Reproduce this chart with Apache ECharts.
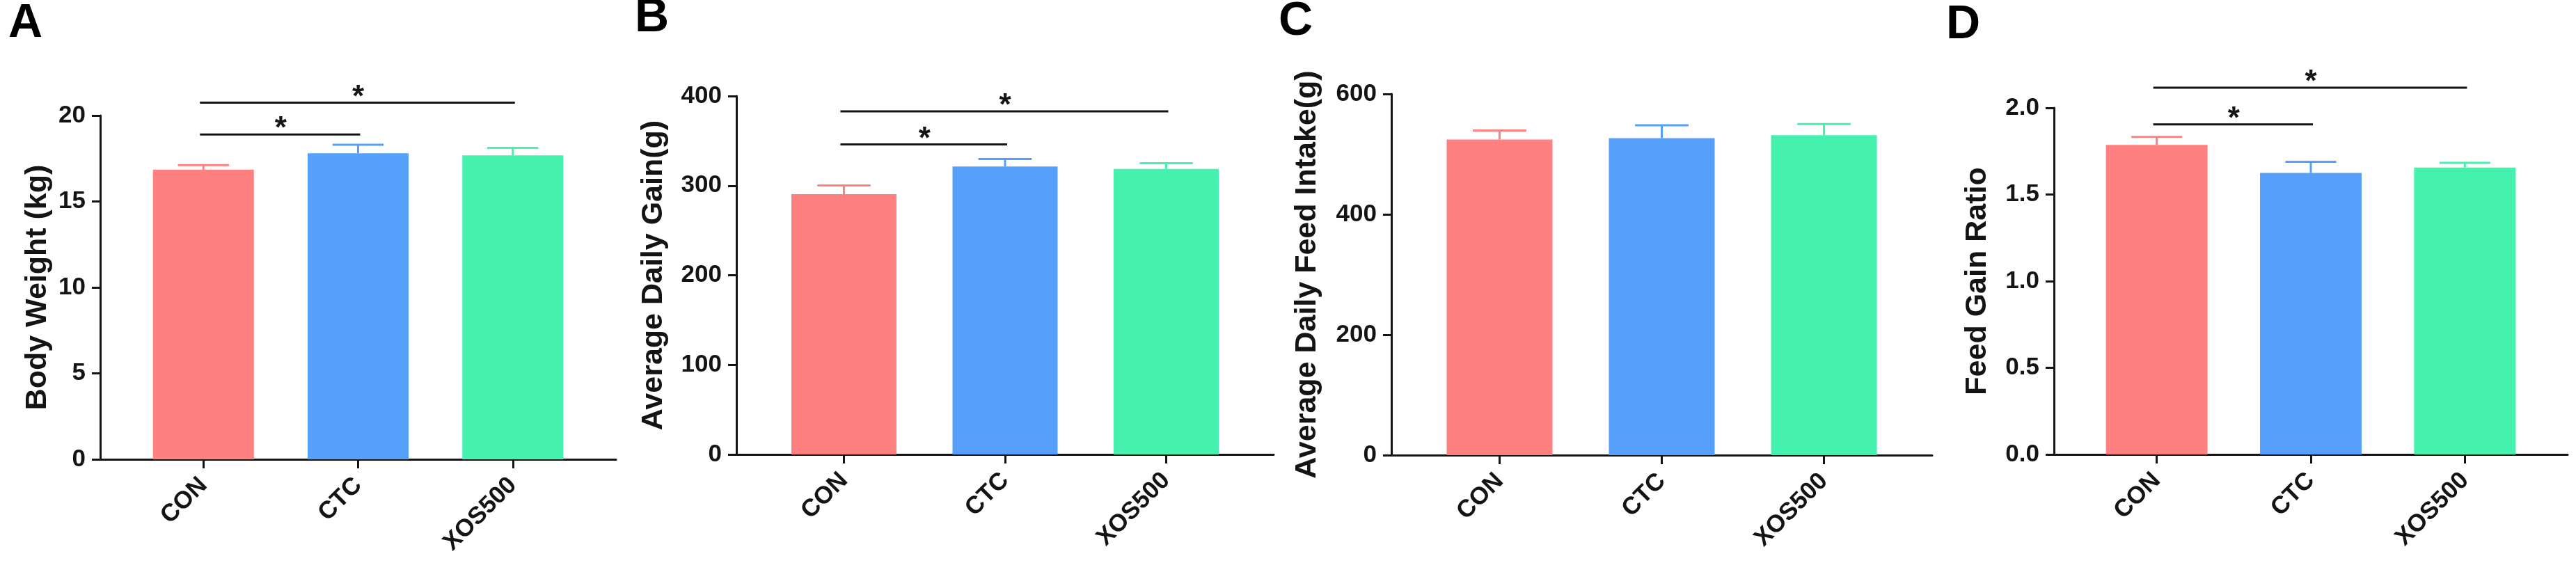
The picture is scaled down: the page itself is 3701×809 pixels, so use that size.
<!DOCTYPE html>
<html>
<head>
<meta charset="utf-8">
<script src="https://cdn.jsdelivr.net/npm/echarts@6/dist/echarts.min.js"></script>
<style>
  html, body { margin: 0; padding: 0; background: #fff; }
  #main { width: 3701px; height: 809px; }
</style>
</head>
<body>
<div id="main"></div>
<script>
// groups and colours
var groups = ['CON', 'CTC', 'XOS500']
var barColors = ['#FF8080', '#56A0FB', '#44F2AE']

// A - body weight (kg)
var bodyWeight = [16.85, 17.80, 17.68]
var bodyWeightErr = [0.27, 0.50, 0.44]
var bodyWeightSig = [[0, 1, 18.9], [0, 2, 20.75]]

// B - average daily gain (g)
var dailyGain = [290.5, 321.4, 318.6]
var dailyGainErr = [9.6, 8.4, 6.4]
var dailyGainSig = [[0, 1, 346], [0, 2, 383]]

// C - average daily feed intake (g)
var feedIntake = [524.3, 526.6, 531.4]
var feedIntakeErr = [14.9, 21.5, 18.5]
var feedIntakeSig = []

// D - feed gain ratio
var feedGainRatio = [1.786, 1.624, 1.656]
var feedGainRatioErr = [0.046, 0.065, 0.027]
var feedGainRatioSig = [[0, 1, 1.905], [0, 2, 2.116]]

var FONT = '"Liberation Sans", Arial, Helvetica, sans-serif'
var INK = '#141414'

var panels = [
  {letter: 'A', letterLeft: 12, letterTop: 0, name: 'Body Weight (kg)', nameGap: 68,
    grid: {left: 144, top: 166, width: 741, height: 494}, max: 20, interval: 5, digits: 0,
    barWidth: 145, values: bodyWeight, errors: bodyWeightErr, sig: bodyWeightSig},
  {letter: 'B', letterLeft: 912, letterTop: -8, name: 'Average Daily Gain(g)', nameGap: 97,
    grid: {left: 1058, top: 138, width: 772, height: 515}, max: 400, interval: 100, digits: 0,
    barWidth: 151, values: dailyGain, errors: dailyGainErr, sig: dailyGainSig},
  {letter: 'C', letterLeft: 1837, letterTop: -3, name: 'Average Daily Feed Intake(g)', nameGap: 99,
    grid: {left: 1999, top: 135, width: 777, height: 519}, max: 600, interval: 200, digits: 0,
    barWidth: 152, values: feedIntake, errors: feedIntakeErr, sig: feedIntakeSig},
  {letter: 'D', letterLeft: 2796, letterTop: 2, name: 'Feed Gain Ratio', nameGap: 88,
    grid: {left: 2951, top: 155, width: 738, height: 498}, max: 2, interval: 0.5, digits: 1,
    barWidth: 146, values: feedGainRatio, errors: feedGainRatioErr, sig: feedGainRatioSig}
]

var option = {
  backgroundColor: '#fff',
  animation: false,
  title: [],
  grid: [],
  xAxis: [],
  yAxis: [],
  series: []
}

panels.forEach(function (p, i) {
  option.title.push({
    text: p.letter,
    left: p.letterLeft,
    top: p.letterTop,
    padding: 0,
    textStyle: {fontFamily: FONT, fontSize: 68, fontWeight: 'bold', color: '#000'}
  })
  option.grid.push(p.grid)
  option.xAxis.push({
    type: 'value',
    gridIndex: i,
    min: -0.667,
    max: 2.667,
    splitLine: {show: false},
    axisLine: {onZero: false, lineStyle: {color: INK, width: 3}},
    axisTick: {length: 13, lineStyle: {color: INK, width: 3}, customValues: [0, 1, 2]},
    axisLabel: {
      customValues: [0, 1, 2],
      rotate: 45,
      margin: 32,
      fontFamily: FONT,
      fontSize: 35,
      fontWeight: 'bold',
      color: INK,
      formatter: function (v) { return groups[Math.round(v)] }
    }
  })
  option.yAxis.push({
    type: 'value',
    gridIndex: i,
    min: 0,
    max: p.max,
    interval: p.interval,
    name: p.name,
    nameLocation: 'middle',
    nameGap: p.nameGap,
    nameTextStyle: {fontFamily: FONT, fontSize: 43, fontWeight: 'bold', color: INK},
    splitLine: {show: false},
    axisLine: {show: true, onZero: false, lineStyle: {color: INK, width: 3}},
    axisTick: {show: true, length: 12, lineStyle: {color: INK, width: 3}},
    axisLabel: {
      margin: 21,
      fontFamily: FONT,
      fontSize: 35,
      fontWeight: 'bold',
      color: INK,
      formatter: function (v) { return v.toFixed(p.digits) }
    }
  })

  // bars
  option.series.push({
    type: 'bar',
    xAxisIndex: i,
    yAxisIndex: i,
    barWidth: p.barWidth,
    data: p.values.map(function (v, k) { return [k, v] }),
    itemStyle: {
      color: function (params) { return barColors[params.dataIndex] }
    }
  })

  // error bars (mean + SEM)
  option.series.push({
    type: 'custom',
    xAxisIndex: i,
    yAxisIndex: i,
    clip: false,
    z: 3,
    encode: {x: 0, y: 1},
    data: p.values.map(function (v, k) { return [k, v, p.errors[k]] }),
    renderItem: function (params, api) {
      var x = api.value(0)
      var y = api.value(1)
      var e = api.value(2)
      var base = api.coord([x, y])
      var top = api.coord([x, y + e])
      var half = api.size([1, 0])[0] * 0.165
      var style = {stroke: barColors[params.dataIndex], lineWidth: 3}
      return {
        type: 'group',
        children: [
          {type: 'line', shape: {x1: base[0], y1: base[1], x2: top[0], y2: top[1]}, style: style},
          {type: 'line', shape: {x1: top[0] - half, y1: top[1], x2: top[0] + half, y2: top[1]}, style: style}
        ]
      }
    }
  })

  // significance brackets
  if (p.sig.length) {
    option.series.push({
      type: 'custom',
      xAxisIndex: i,
      yAxisIndex: i,
      clip: false,
      z: 4,
      encode: {x: [0, 1], y: 2},
      data: p.sig,
      renderItem: function (params, api) {
        var a = api.coord([api.value(0), api.value(2)])
        var b = api.coord([api.value(1), api.value(2)])
        return {
          type: 'group',
          children: [
            {type: 'line', shape: {x1: a[0] - 5, y1: a[1], x2: b[0] + 3, y2: b[1]}, style: {stroke: INK, lineWidth: 3}},
            {type: 'text', x: (a[0] + b[0]) / 2, y: a[1] - 7,
              style: {text: '*', fill: INK, fontFamily: FONT, fontSize: 44, fontWeight: 'bold', align: 'center', verticalAlign: 'middle'}}
          ]
        }
      }
    })
  }
})

var chart = echarts.init(document.getElementById('main'), null, {renderer: 'canvas'})
chart.setOption(option)
</script>
</body>
</html>
